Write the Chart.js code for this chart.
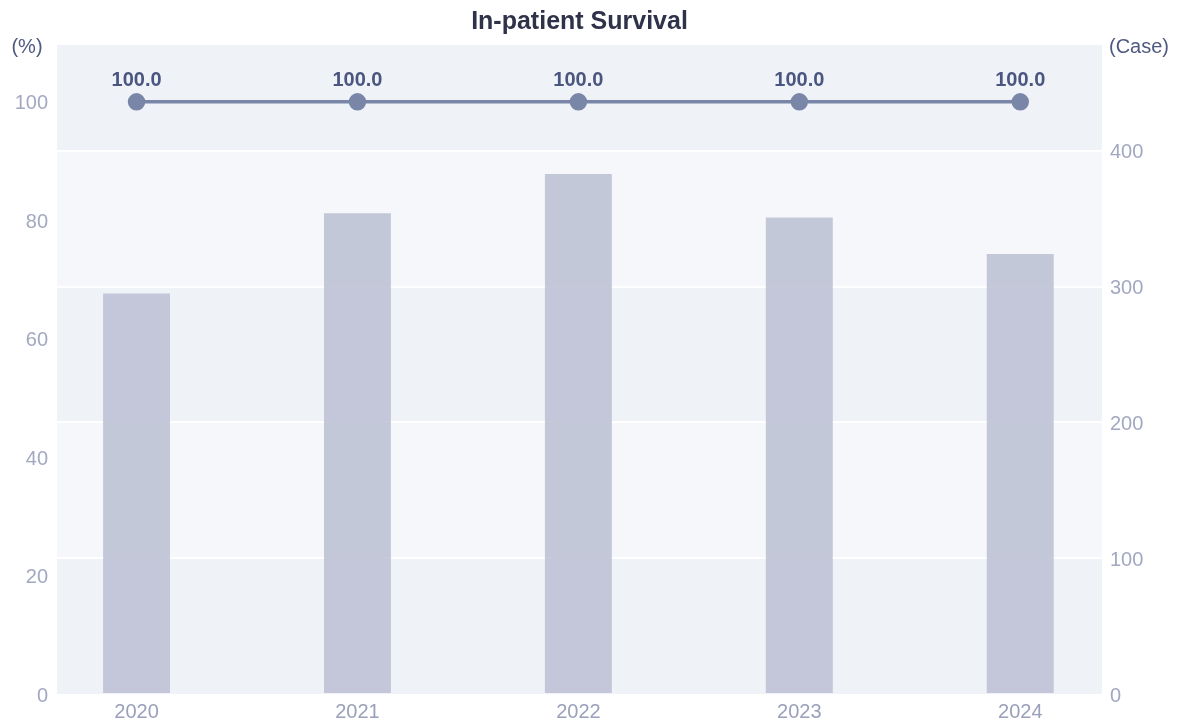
<!DOCTYPE html>
<html lang="en">
<head>
    <meta charset="UTF-8">
    <title>In-patient Survival</title>
    <style>
        * { margin: 0; padding: 0; box-sizing: border-box; }
        body { background: #fff; }
        .chart-box { width: 1181px; height: 722px; position: relative; }
    </style>
    <script src="https://cdn.jsdelivr.net/npm/chart.js@4/dist/chart.umd.min.js"></script>
</head>
<body>
    <div class="chart-box"><canvas id="survivalChart"></canvas></div>

    <script>
        // data
        const years = ['2020', '2021', '2022', '2023', '2024'];
        const survivalRate = [100.0, 100.0, 100.0, 100.0, 100.0];
        const caseCounts = [295, 354, 383, 351, 324];

        const FONT = "'Liberation Sans', Arial, sans-serif";
        const bandDark = '#eff2f7';
        const bandLight = '#f6f7fa';

        // alternating background bands following the case axis grid
        const bandPlugin = {
            id: 'bands',
            beforeDraw(chart) {
                const { ctx, chartArea } = chart;
                const y2 = chart.scales.y2;
                const ticks = y2.ticks.map(t => t.value);
                const edges = [y2.min, ...ticks.filter(v => v > y2.min && v < y2.max), y2.max];
                ctx.save();
                for (let i = 0; i < edges.length - 1; i++) {
                    const top = y2.getPixelForValue(edges[i + 1]);
                    const bottom = y2.getPixelForValue(edges[i]);
                    ctx.fillStyle = i % 2 === 0 ? bandDark : bandLight;
                    ctx.fillRect(chartArea.left, top, chartArea.right - chartArea.left, bottom - top);
                }
                ctx.restore();
            }
        };

        // title (centred over the plot), unit labels and point value labels
        const textPlugin = {
            id: 'texts',
            afterDatasetsDraw(chart) {
                const { ctx, chartArea } = chart;
                ctx.save();
                ctx.textBaseline = 'middle';
                ctx.textAlign = 'center';

                ctx.fillStyle = '#2f3248';
                ctx.font = 'bold 25px ' + FONT;
                ctx.fillText('In-patient Survival', (chartArea.left + chartArea.right) / 2, 22);

                ctx.fillStyle = '#4f5a80';
                ctx.font = '20px ' + FONT;
                ctx.fillText('(%)', 27, chartArea.top + 2);
                ctx.fillText('(Case)', 1139, chartArea.top + 2);

                const meta = chart.getDatasetMeta(1);
                ctx.font = 'bold 20px ' + FONT;
                ctx.fillStyle = '#4a5580';
                meta.data.forEach((pt, i) => {
                    ctx.fillText(survivalRate[i].toFixed(1), pt.x, pt.y - 21);
                });
                ctx.restore();
            }
        };

        const ctx = document.getElementById('survivalChart').getContext('2d');
        new Chart(ctx, {
            data: {
                datasets: [
                    {
                        type: 'bar',
                        label: 'Cases',
                        data: caseCounts.map((v, i) => ({ x: i, y: v })),
                        yAxisID: 'y2',
                        backgroundColor: 'rgba(190,194,213,0.9)',
                        barPercentage: 0.303,
                        categoryPercentage: 1,
                        order: 2
                    },
                    {
                        type: 'line',
                        label: 'Survival (%)',
                        data: survivalRate.map((v, i) => ({ x: i, y: v })),
                        yAxisID: 'y',
                        borderColor: '#7a86a8',
                        backgroundColor: '#7a86a8',
                        borderWidth: 3.5,
                        pointRadius: 7,
                        pointHoverRadius: 7,
                        order: 1
                    }
                ]
            },
            options: {
                responsive: true,
                maintainAspectRatio: false,
                animation: false,
                layout: { padding: { top: 45, left: 0, right: 0, bottom: 0 } },
                plugins: {
                    legend: { display: false },
                    tooltip: { enabled: false },
                    title: { display: false }
                },
                scales: {
                    x: {
                        type: 'linear',
                        offset: false,
                        min: -0.36,
                        max: 4.37,
                        grid: { display: false, drawTicks: false, offset: false },
                        border: { display: false },
                        afterBuildTicks(scale) {
                            scale.ticks = years.map((y, i) => ({ value: i }));
                        },
                        afterFit(scale) { scale.height = 28; },
                        ticks: {
                            padding: 6,
                            color: '#9aa0ba',
                            font: { family: FONT, size: 20 },
                            callback: v => years[v]
                        }
                    },
                    y: {
                        position: 'left',
                        min: 0,
                        max: 109.6,
                        grid: { display: false, drawTicks: false },
                        border: { display: false },
                        afterBuildTicks(scale) {
                            scale.ticks = scale.ticks.filter(t => t.value % 20 === 0);
                        },
                        afterFit(scale) { scale.width = 57; },
                        ticks: {
                            stepSize: 20,
                            padding: 9,
                            labelOffset: 2,
                            color: '#a3a8c1',
                            font: { family: FONT, size: 20 }
                        }
                    },
                    y2: {
                        position: 'right',
                        min: 0,
                        max: 478,
                        grid: {
                            color: ctx => ctx.tick && ctx.tick.value > 0 ? '#ffffff' : 'rgba(0,0,0,0)',
                            lineWidth: 2,
                            drawTicks: false
                        },
                        border: { display: false },
                        afterBuildTicks(scale) {
                            scale.ticks = scale.ticks.filter(t => t.value % 100 === 0);
                        },
                        afterFit(scale) { scale.width = 79; },
                        ticks: {
                            stepSize: 100,
                            padding: 8,
                            labelOffset: 2,
                            color: '#a3a8c1',
                            font: { family: FONT, size: 20 }
                        }
                    }
                }
            },
            plugins: [bandPlugin, textPlugin]
        });
    </script>
</body>
</html>
